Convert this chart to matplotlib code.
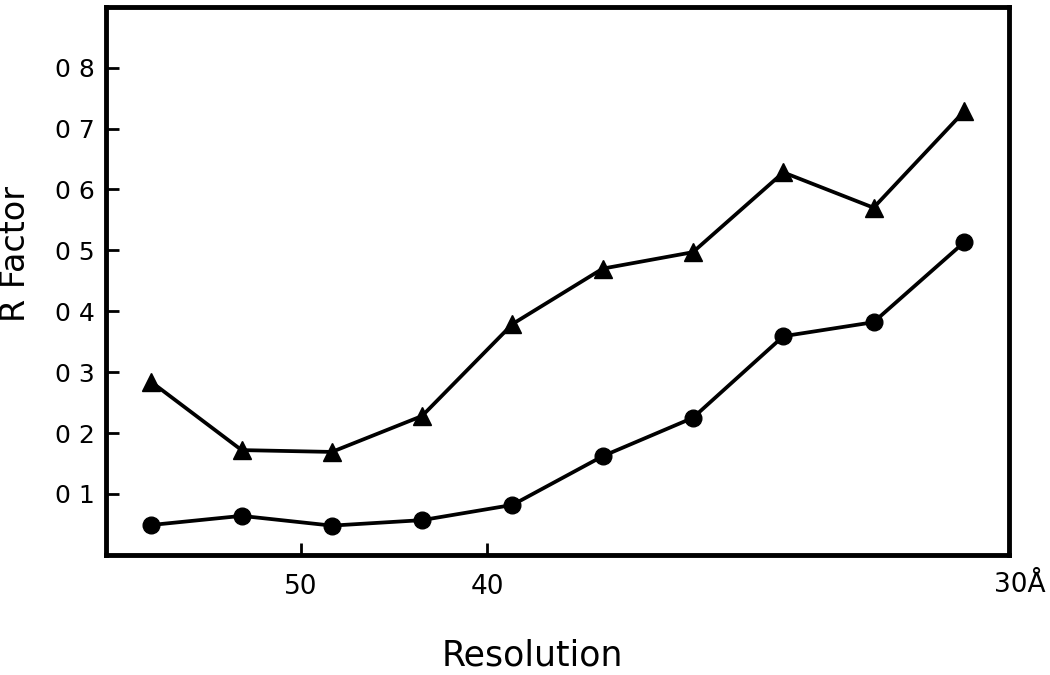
import matplotlib.pyplot as plt

plt.rcParams['font.family'] = ['DejaVu Sans']

# x is in units of (100/d)^3, i.e. equal-volume resolution shells
shell_mid = [1.85, 5.56, 9.26, 12.96, 16.67, 20.37, 24.07, 27.78, 31.48, 35.19]
r_triangle = [0.284, 0.172, 0.169, 0.228, 0.379, 0.470, 0.497, 0.628, 0.570, 0.728]
r_circle = [0.049, 0.064, 0.048, 0.057, 0.082, 0.162, 0.225, 0.359, 0.382, 0.513]

res_ticks = [50, 40]
y_ticks = [0.1, 0.2, 0.3, 0.4, 0.5, 0.6, 0.7, 0.8]
y_ticklabels = ['0 1', '0 2', '0 3', '0 4', '0 5', '0 6', '0 7', '0 8']


def to_x(d):
    return (100.0 / d) ** 3


fig = plt.figure(figsize=(10.5, 6.75), dpi=100)
ax = fig.add_axes([0.101, 0.178, 0.860, 0.812])

ax.plot(shell_mid, r_triangle, color='black', lw=2.7, marker='^', ms=13)
ax.plot(shell_mid, r_circle, color='black', lw=2.7, marker='o', ms=12)

ax.set_xlim(0, to_x(30))
ax.set_ylim(0, 0.9)

for s in ax.spines.values():
    s.set_linewidth(3.5)

ax.set_yticks(y_ticks)
ax.set_yticklabels(y_ticklabels, fontsize=18)
ax.set_xticks([to_x(d) for d in res_ticks])
ax.set_xticklabels([str(d) for d in res_ticks], fontsize=19)
ax.tick_params(axis='both', direction='in', length=9, width=2)
ax.tick_params(axis='y', pad=8)
ax.tick_params(axis='x', pad=14)

ax.annotate('30Å', xy=(to_x(30), 0), xycoords='data', xytext=(8, -12),
            textcoords='offset points', ha='center', va='top', fontsize=19)

ax.set_ylabel('R Factor', fontsize=24)
ax.yaxis.set_label_coords(-0.1, 0.549)
ax.yaxis.label.set_va('center')

ax.set_xlabel('Resolution', fontsize=25)
ax.xaxis.set_label_coords(0.472, -0.184)
ax.xaxis.label.set_va('center')

fig.savefig('out.png', dpi=100)
